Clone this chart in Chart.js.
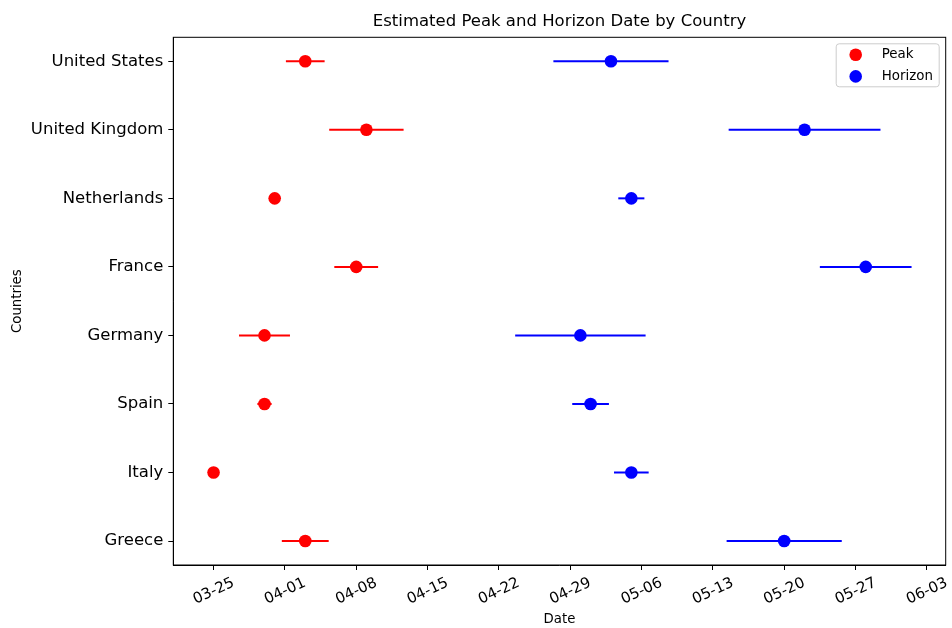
<!DOCTYPE html>
<html>
<head>
<meta charset="utf-8">
<title>Estimated Peak and Horizon Date by Country</title>
<script src="https://cdn.jsdelivr.net/npm/chart.js@4.4.1/dist/chart.umd.min.js"></script>
<style>
  html, body { margin: 0; padding: 0; background: #fff; }
  #wrap { width: 952px; height: 628px; }
</style>
</head>
<body>
<div id="wrap"><canvas id="grafico" width="952" height="628"></canvas></div>
<script>
// paises de abajo hacia arriba (como en matplotlib)
const paises = ['Greece', 'Italy', 'Spain', 'Germany', 'France', 'Netherlands', 'United Kingdom', 'United States'];

const fechasPico = ['04-03', '03-25', '03-30', '03-30', '04-08', '03-31', '04-09', '04-03'];
const errorPico = [2.3, 0, 0.7, 2.5, 2.15, 0, 3.65, 1.9]; // dias

const fechasHorizonte = ['05-20', '05-05', '05-01', '04-30', '05-28', '05-05', '05-22', '05-03'];
const errorHorizonte = [5.65, 1.7, 1.8, 6.4, 4.5, 1.28, 7.45, 5.65]; // dias

const etiquetasX = ['03-25', '04-01', '04-08', '04-15', '04-22', '04-29', '05-06', '05-13', '05-20', '05-27', '06-03'];

const titulo = 'Estimated Peak and Horizon Date by Country';

// fecha 'MM-DD' (2020) -> dias desde 03-25
const origen = Date.UTC(2020, 2, 25);
function aDias(mmdd) {
    const [m, d] = mmdd.split('-').map(Number);
    return (Date.UTC(2020, m - 1, d) - origen) / 86400000;
}
function aFecha(dias) {
    const f = new Date(origen + Math.round(dias) * 86400000);
    return String(f.getUTCMonth() + 1).padStart(2, '0') + '-' + String(f.getUTCDate()).padStart(2, '0');
}

const valoresX = etiquetasX.map(aDias);
const puntosPico = fechasPico.map((f, i) => ({ x: aDias(f), y: i }));
const puntosHorizonte = fechasHorizonte.map((f, i) => ({ x: aDias(f), y: i }));

Chart.defaults.font.family = "'DejaVu Sans', sans-serif";
Chart.defaults.color = '#000';

// barras de error horizontales
const barrasError = {
    id: 'barrasError',
    beforeDatasetsDraw(chart) {
        const { ctx, scales: { x, y } } = chart;
        chart.data.datasets.forEach((ds) => {
            ctx.save();
            ctx.strokeStyle = ds.backgroundColor;
            ctx.lineWidth = 2;
            ds.data.forEach((p, i) => {
                const e = ds.errores[i];
                if (!e) return;
                const py = y.getPixelForValue(p.y);
                ctx.beginPath();
                ctx.moveTo(x.getPixelForValue(p.x - e), py);
                ctx.lineTo(x.getPixelForValue(p.x + e), py);
                ctx.stroke();
            });
            ctx.restore();
        });
    },
};

// titulo centrado sobre los ejes, marco completo y leyenda dentro del area
const marcoLeyenda = {
    id: 'marcoLeyenda',
    afterDraw(chart) {
        const { ctx, chartArea: a } = chart;
        ctx.save();
        ctx.fillStyle = '#000';
        ctx.font = "16.5px 'DejaVu Sans'";
        ctx.textAlign = 'center';
        ctx.textBaseline = 'middle';
        ctx.fillText(titulo, (a.left + a.right) / 2, 22);

        ctx.strokeStyle = '#000';
        ctx.lineWidth = 1;
        ctx.strokeRect(a.left, a.top, a.right - a.left, a.bottom - a.top);

        const w = 103, h = 43;
        const bx = a.right - 6.5 - w, by = a.top + 6.5;
        ctx.beginPath();
        ctx.roundRect(bx, by, w, h, 3);
        ctx.fillStyle = 'rgba(255,255,255,0.8)';
        ctx.fill();
        ctx.strokeStyle = '#cccccc';
        ctx.stroke();

        ctx.font = "13.4px 'DejaVu Sans'";
        ctx.textAlign = 'left';
        chart.data.datasets.forEach((ds, i) => {
            const cy = by + 11 + i * 21.6;
            ctx.fillStyle = ds.backgroundColor;
            ctx.beginPath();
            ctx.arc(bx + 19.5, cy, 6.3, 0, Math.PI * 2);
            ctx.fill();
            ctx.fillStyle = '#000';
            ctx.fillText(ds.label, bx + 45.5, cy);
        });
        ctx.restore();
    },
};

new Chart(document.getElementById('grafico'), {
    type: 'scatter',
    data: {
        datasets: [
            {
                label: 'Peak',
                data: puntosPico,
                errores: errorPico,
                backgroundColor: '#ff0000',
                borderWidth: 0,
                pointRadius: 6.3,
                pointHoverRadius: 6.3,
            },
            {
                label: 'Horizon',
                data: puntosHorizonte,
                errores: errorHorizonte,
                backgroundColor: '#0000ff',
                borderWidth: 0,
                pointRadius: 6.3,
                pointHoverRadius: 6.3,
            },
        ],
    },
    options: {
        responsive: false,
        animation: false,
        layout: { padding: { left: 0, right: 4.5, top: 37.3, bottom: 0 } },
        plugins: {
            legend: { display: false },
            tooltip: { enabled: false },
            title: { display: false },
        },
        scales: {
            x: {
                type: 'linear',
                min: -3.95,
                max: 71.85,
                afterFit: (s) => { s.height = 63; },
                afterBuildTicks: (s) => { s.ticks = valoresX.map(v => ({ value: v })); },
                grid: { drawOnChartArea: false, drawTicks: true, tickLength: 5, color: '#000' },
                border: { color: '#000' },
                ticks: {
                    font: { size: 15 },
                    maxRotation: 25,
                    minRotation: 25,
                    padding: 4,
                    labelOffset: 20,
                    callback: (v) => aFecha(v),
                },
                title: { display: true, text: 'Date', font: { size: 13.3 }, padding: { top: 0, bottom: 0 } },
            },
            y: {
                type: 'linear',
                min: -0.35,
                max: paises.length - 1 + 0.35,
                afterFit: (s) => { s.width = 173.3; },
                afterBuildTicks: (s) => { s.ticks = paises.map((_, i) => ({ value: i })); },
                grid: { drawOnChartArea: false, drawTicks: true, tickLength: 5, color: '#000' },
                border: { color: '#000' },
                ticks: {
                    font: { size: 16.5 },
                    padding: 5,
                    callback: (v) => paises[v] ?? '',
                },
                title: { display: true, text: 'Countries', font: { size: 13.3 }, padding: { top: 9.5, bottom: 0 } },
            },
        },
    },
    plugins: [barrasError, marcoLeyenda],
});
</script>
</body>
</html>
